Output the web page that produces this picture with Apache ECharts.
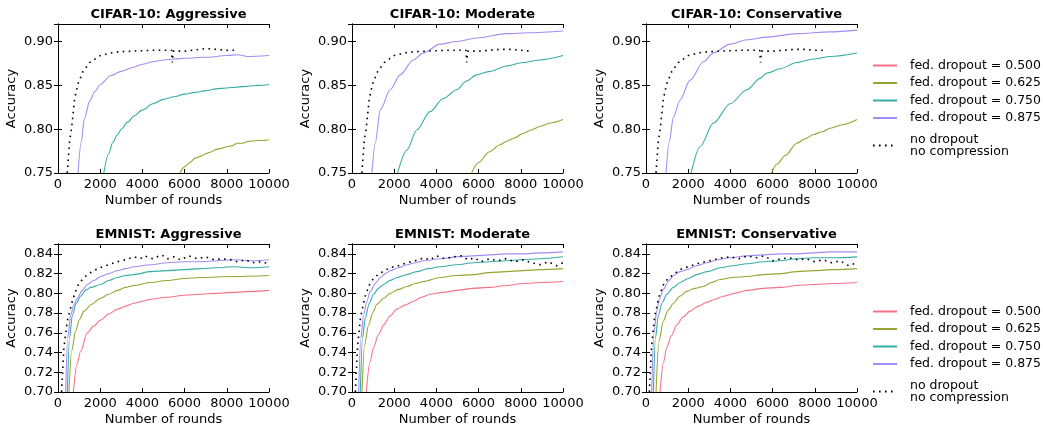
<!DOCTYPE html>
<html><head><meta charset="utf-8">
<script src="https://cdn.jsdelivr.net/npm/echarts@6/dist/echarts.min.js"></script>
<style>html,body{margin:0;padding:0;background:#fff}#c{width:1043px;height:428px}</style>
</head><body><div id="c"></div>
<script>
// ---- Data (rounds, accuracy) ----
const panelTitles = ['CIFAR-10: Aggressive','CIFAR-10: Moderate','CIFAR-10: Conservative','EMNIST: Aggressive','EMNIST: Moderate','EMNIST: Conservative'];
const seriesNames = ['fed. dropout = 0.500','fed. dropout = 0.625','fed. dropout = 0.750','fed. dropout = 0.875','no dropout\nno compression'];
const xTicks = [0,2000,4000,6000,8000,10000];
const cifarYTicks = [0.75,0.80,0.85,0.90];
const emnistYTicks = [0.70,0.72,0.74,0.76,0.78,0.80,0.82,0.84];

// CIFAR-10 Aggressive
const cA_500 = [];
const cA_625 = [[5780,0.750],[6000,0.757],[6250,0.762],[6500,0.767],[6750,0.769],[7000,0.772],[7250,0.774],[7500,0.777],[7750,0.778],[8000,0.780],[8250,0.781],[8500,0.784],[8750,0.784],[9000,0.786],[9500,0.787],[10000,0.788]];
const cA_750 = [[2170,0.750],[2400,0.772],[2600,0.785],[2800,0.793],[3000,0.800],[3300,0.808],[3600,0.815],[4000,0.822],[4500,0.829],[5000,0.834],[5500,0.837],[6000,0.840],[6500,0.842],[7000,0.844],[7500,0.846],[8000,0.847],[8500,0.848],[9000,0.849],[9500,0.850],[10000,0.851]];
const cA_875 = [[950,0.750],[1100,0.785],[1250,0.812],[1500,0.832],[1750,0.843],[2000,0.851],[2500,0.861],[3000,0.866],[3500,0.870],[4000,0.874],[4500,0.877],[5000,0.879],[5500,0.880],[6000,0.881],[7000,0.882],[8000,0.884],[8500,0.885],[9000,0.883],[10000,0.884]];
const cA_nd = [[440,0.750],[550,0.787],[640,0.800],[790,0.835],[950,0.852],[1190,0.866],[1500,0.876],[2000,0.884],[2700,0.888],[3500,0.889],[4500,0.890],[5380,0.890],[5420,0.876],[5460,0.889],[6000,0.889],[7000,0.892],[7500,0.891],[8000,0.890],[8450,0.890]];

// CIFAR-10 Moderate
const cM_500 = [];
const cM_625 = [[5670,0.750],[6000,0.762],[6500,0.774],[7000,0.782],[7300,0.786],[7700,0.790],[8100,0.795],[8500,0.799],[8900,0.803],[9400,0.807],[10000,0.811]];
const cM_750 = [[2160,0.750],[2600,0.776],[3070,0.799],[3700,0.820],[4330,0.835],[4960,0.845],[5430,0.855],[5900,0.862],[6530,0.866],[7320,0.872],[8110,0.876],[8900,0.879],[10000,0.884]];
const cM_875 = [[945,0.750],[1100,0.784],[1340,0.822],[1810,0.845],[2280,0.862],[2910,0.879],[3390,0.887],[4170,0.897],[4960,0.900],[5910,0.904],[7320,0.909],[8430,0.910],[10000,0.912]];
const cM_nd = [[470,0.750],[580,0.787],[670,0.800],[820,0.835],[980,0.852],[1220,0.866],[1530,0.876],[2000,0.884],[2700,0.888],[3500,0.889],[4500,0.890],[5400,0.890],[5440,0.876],[5480,0.889],[6000,0.889],[7000,0.891],[7500,0.891],[8000,0.890],[8420,0.889]];

// CIFAR-10 Conservative
const cC_500 = [];
const cC_625 = [[5950,0.750],[6200,0.760],[6600,0.770],[7150,0.784],[7550,0.789],[7940,0.794],[8350,0.797],[8730,0.801],[9300,0.805],[10000,0.811]];
const cC_750 = [[2140,0.750],[2560,0.780],[3200,0.807],[3990,0.829],[4780,0.845],[5410,0.858],[5730,0.864],[6360,0.869],[7150,0.876],[7940,0.880],[8730,0.883],[10000,0.887]];
const cC_875 = [[950,0.750],[1100,0.785],[1300,0.814],[1610,0.833],[2090,0.856],[2720,0.877],[3200,0.887],[3990,0.897],[4780,0.902],[5730,0.905],[7150,0.909],[8730,0.911],[10000,0.913]];
const cC_nd = [[475,0.750],[585,0.787],[675,0.800],[825,0.835],[985,0.852],[1225,0.866],[1535,0.876],[2000,0.884],[2700,0.888],[3500,0.889],[4500,0.890],[5390,0.890],[5430,0.876],[5470,0.889],[6000,0.889],[7000,0.891],[7500,0.891],[8000,0.890],[8500,0.890]];

// EMNIST Aggressive
const eA_500 = [[726,0.700],[900,0.728],[1070,0.741],[1390,0.760],[1700,0.767],[2020,0.773],[2400,0.779],[2810,0.784],[3200,0.787],[3600,0.790],[4000,0.792],[4390,0.794],[5170,0.796],[6000,0.798],[6750,0.799],[7500,0.800],[8330,0.801],[9200,0.802],[10000,0.803]];
const eA_625 = [[521,0.700],[650,0.742],[836,0.762],[1030,0.774],[1230,0.782],[1600,0.789],[2020,0.795],[2400,0.799],[2810,0.803],[3200,0.806],[3600,0.808],[4390,0.811],[5170,0.813],[6000,0.815],[6750,0.816],[8330,0.817],[10000,0.818]];
const eA_750 = [[442,0.700],[550,0.755],[678,0.778],[870,0.790],[1070,0.797],[1300,0.803],[1550,0.806],[2020,0.809],[2400,0.813],[2810,0.816],[3200,0.818],[3600,0.819],[4390,0.822],[5170,0.823],[6000,0.824],[6750,0.825],[7500,0.826],[8330,0.827],[9200,0.826],[10000,0.827]];
const eA_875 = [[363,0.700],[460,0.755],[600,0.778],[750,0.788],[915,0.795],[1150,0.803],[1390,0.809],[1700,0.813],[2020,0.817],[2400,0.820],[2810,0.823],[3200,0.825],[3600,0.827],[4390,0.829],[5170,0.831],[5960,0.832],[6750,0.832],[7540,0.833],[8330,0.834],[9200,0.833],[10000,0.834]];
const eA_nd = [[170,0.700],[280,0.745],[440,0.772],[680,0.792],[910,0.807],[1150,0.814],[1390,0.819],[1700,0.823],[2000,0.826],[2400,0.829],[2800,0.832],[3200,0.834],[3600,0.837],[3900,0.835],[4100,0.838],[4500,0.835],[4900,0.839],[5200,0.835],[5500,0.837],[5800,0.834],[6200,0.838],[6600,0.835],[7000,0.837],[7400,0.834],[7800,0.835],[8200,0.834],[8500,0.832],[8900,0.834],[9200,0.831],[9600,0.832],[10000,0.830]];

// EMNIST Moderate
const eM_500 = [[677,0.700],[850,0.730],[1020,0.745],[1250,0.758],[1500,0.768],[1800,0.777],[2130,0.784],[2500,0.788],[2910,0.792],[3300,0.796],[3700,0.799],[4300,0.801],[4960,0.803],[5700,0.805],[6530,0.806],[7300,0.808],[8110,0.810],[9000,0.811],[10000,0.812]];
const eM_625 = [[472,0.700],[600,0.748],[787,0.768],[980,0.780],[1180,0.789],[1500,0.795],[1810,0.800],[2200,0.804],[2600,0.807],[3000,0.810],[3390,0.812],[4170,0.816],[4960,0.818],[5750,0.819],[6500,0.821],[7320,0.822],[8100,0.823],[8900,0.824],[10000,0.825]];
const eM_750 = [[394,0.700],[500,0.755],[630,0.775],[820,0.790],[1020,0.799],[1250,0.805],[1500,0.809],[1800,0.813],[2130,0.816],[2600,0.819],[3070,0.822],[3600,0.825],[4170,0.827],[4960,0.829],[5750,0.831],[6500,0.832],[7320,0.833],[8100,0.834],[8900,0.835],[10000,0.837]];
const eM_875 = [[315,0.700],[420,0.755],[551,0.778],[700,0.792],[866,0.802],[1100,0.810],[1340,0.816],[1580,0.820],[1810,0.823],[2200,0.826],[2600,0.829],[3000,0.831],[3390,0.833],[4170,0.835],[4960,0.837],[5750,0.838],[6530,0.839],[7320,0.840],[8110,0.840],[9000,0.841],[10000,0.842]];
const eM_nd = [[160,0.700],[260,0.745],[400,0.775],[620,0.797],[850,0.810],[1050,0.816],[1300,0.820],[1800,0.826],[2200,0.828],[2600,0.831],[3000,0.833],[3400,0.836],[3700,0.834],[4000,0.838],[4400,0.835],[4800,0.837],[5200,0.838],[5500,0.834],[5800,0.836],[6100,0.832],[6500,0.835],[6900,0.833],[7300,0.835],[7700,0.832],[8100,0.834],[8500,0.831],[8900,0.829],[9300,0.832],[9700,0.828],[10000,0.831]];

// EMNIST Conservative
const eC_500 = [[665,0.700],[830,0.730],[980,0.745],[1200,0.757],[1460,0.768],[1750,0.776],[2090,0.782],[2480,0.787],[2880,0.791],[3270,0.794],[3670,0.797],[4200,0.800],[4780,0.803],[5570,0.805],[6360,0.806],[7150,0.808],[7940,0.809],[8900,0.810],[10000,0.811]];
const eC_625 = [[475,0.700],[620,0.752],[823,0.772],[1050,0.783],[1300,0.790],[1600,0.797],[1930,0.802],[2300,0.805],[2720,0.807],[3100,0.811],[3510,0.814],[4100,0.816],[4780,0.817],[5570,0.819],[6360,0.820],[7150,0.822],[7940,0.823],[8900,0.824],[10000,0.825]];
const eC_750 = [[348,0.700],[450,0.755],[585,0.778],[780,0.791],[981,0.799],[1300,0.806],[1610,0.811],[2000,0.815],[2410,0.819],[2900,0.822],[3510,0.826],[4100,0.828],[4780,0.830],[5570,0.832],[6360,0.833],[7150,0.835],[7940,0.836],[8900,0.836],[10000,0.837]];
const eC_875 = [[269,0.700],[380,0.760],[506,0.782],[650,0.795],[823,0.804],[1050,0.812],[1300,0.818],[1610,0.822],[1930,0.824],[2400,0.828],[2880,0.831],[3400,0.834],[3990,0.836],[4780,0.838],[5570,0.839],[6360,0.840],[7150,0.840],[7940,0.841],[8730,0.842],[10000,0.842]];
const eC_nd = [[160,0.700],[260,0.745],[400,0.775],[620,0.797],[850,0.810],[1050,0.815],[1300,0.819],[1600,0.824],[2000,0.827],[2400,0.830],[2800,0.832],[3200,0.834],[3600,0.836],[4000,0.837],[4400,0.835],[4800,0.838],[5200,0.836],[5600,0.838],[6000,0.833],[6400,0.835],[6800,0.836],[7200,0.834],[7600,0.835],[8000,0.832],[8400,0.834],[8800,0.831],[9200,0.833],[9600,0.828],[10000,0.831]];

const panelData = [
  [cA_500,cA_625,cA_750,cA_875,cA_nd],
  [cM_500,cM_625,cM_750,cM_875,cM_nd],
  [cC_500,cC_625,cC_750,cC_875,cC_nd],
  [eA_500,eA_625,eA_750,eA_875,eA_nd],
  [eM_500,eM_625,eM_750,eM_875,eM_nd],
  [eC_500,eC_625,eC_750,eC_875,eC_nd]
];

// ---- Styles / layout ----
const colors = ['#f77189','#97a431','#36ada4','#a48cf4','#000000'];
const FONT = 'DejaVu Sans';
const colLeft = [58,352,646];
const plotW = 211;
const rowTop = [24,244];
const plotH = [149,148];

const yRange = [{min:0.75,max:0.92,interval:0.05},{min:0.70,max:0.85,interval:0.02}];

const grid=[], xAxis=[], yAxis=[], series=[], title=[];
for (let p=0;p<6;p++){
  const r = p<3?0:1, c = p%3;
  grid.push({left:colLeft[c], top:rowTop[r], width:plotW, height:plotH[r], containLabel:false});
  title.push({text:panelTitles[p], left:colLeft[c]+plotW/2, top:rowTop[r]-21, textAlign:'center',
    textStyle:{fontFamily:FONT,fontSize:13,fontWeight:'bold',color:'#000'}});
  const axLine = {show:true,lineStyle:{color:'#000',width:1}};
  const tick = {show:true,inside:true,length:4,lineStyle:{color:'#000',width:1}};
  xAxis.push({type:'value',gridIndex:p,min:0,max:10000,interval:2000,position:'bottom',
    axisLine:axLine,axisTick:tick,splitLine:{show:false},
    axisLabel:{fontFamily:FONT,fontSize:13,color:'#000',margin:5,formatter:v=>String(v)},
    name:'Number of rounds',nameLocation:'middle',nameGap:21,
    nameTextStyle:{fontFamily:FONT,fontSize:13,color:'#000'}});
  xAxis.push({type:'value',gridIndex:p,min:0,max:10000,interval:2000,position:'top',
    axisLine:axLine,axisTick:tick,splitLine:{show:false},axisLabel:{show:false}});
  const yr = yRange[r];
  yAxis.push({type:'value',gridIndex:p,min:yr.min,max:yr.max,interval:yr.interval,position:'left',
    axisLine:axLine,axisTick:tick,splitLine:{show:false},
    axisLabel:{fontFamily:FONT,fontSize:13,color:'#000',margin:5,showMaxLabel:false,formatter:v=>v.toFixed(2)},
    name:'Accuracy',nameLocation:'middle',nameGap:40,
    nameTextStyle:{fontFamily:FONT,fontSize:13,color:'#000'}});
  yAxis.push({type:'value',gridIndex:p,min:yr.min,max:yr.max,interval:yr.interval,position:'right',
    axisLine:axLine,axisTick:tick,splitLine:{show:false},axisLabel:{show:false}});
  for (let s=0;s<5;s++){
    const isDot = s===4;
    series.push({type:'line',name:seriesNames[s],xAxisIndex:2*p,yAxisIndex:2*p,
      data:panelData[p][s],symbol:'none',showSymbol:false,
      smooth:isDot?false:0.3,smoothMonotone:'x',clip:true,
      color:colors[s],
      lineStyle:{color:colors[s],width:isDot?1.6:1.1,type:isDot?[1.6,4.4]:'solid'},
      emphasis:{disabled:true},silent:true,animation:false});
  }
}

const legendItems = seriesNames.map((n,i)=> i===4
  ? {name:n,textStyle:{padding:[8,0,0,8],lineHeight:12.5}}
  : {name:n});
const legendBase = {orient:'vertical',left:867,itemWidth:24,itemHeight:14,itemGap:4.5,
  itemStyle:{opacity:0},
  textStyle:{fontFamily:FONT,fontSize:12.5,color:'#000',padding:[0,0,0,8],lineHeight:13},
  data:legendItems,selectedMode:false};
const legend = [Object.assign({},legendBase,{top:54}),Object.assign({},legendBase,{top:300})];

const chart = echarts.init(document.getElementById('c'),null,{renderer:'canvas'});
chart.setOption({animation:false,backgroundColor:'#fff',title,grid,xAxis,yAxis,series,legend});
</script></body></html>
